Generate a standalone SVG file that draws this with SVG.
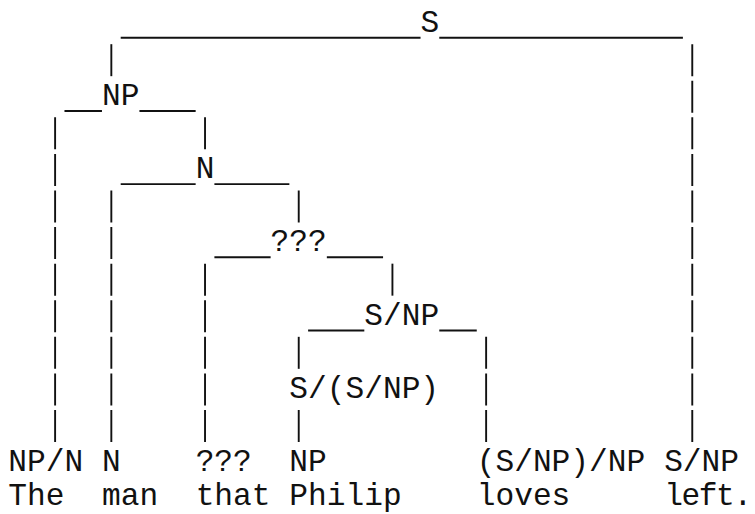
<svg xmlns="http://www.w3.org/2000/svg" width="755" height="514" viewBox="0 0 755 514">
  <style>
    text { font-family: "Liberation Mono", "DejaVu Sans Mono", monospace; font-size: 31.2px; fill: #111; }
    .bar { stroke: #111; stroke-width: 1.9; stroke-dasharray: 32 4.58; fill: none; }
    .rule { stroke: #111; stroke-width: 1.9; fill: none; }
  </style>
  <rect width="755" height="514" fill="#ffffff"/>

  <!-- branch rules (underscores) and vertical stems, one text row = 36.58px -->
  <g id="connectors">
    <!-- S -->
    <line class="rule" x1="120.70" y1="37.8" x2="420.54" y2="37.8"/>
    <line class="rule" x1="439.28" y1="37.8" x2="682.90" y2="37.8"/>
    <line class="bar" x1="111.33" y1="44.18" x2="111.33" y2="76.18"/>
    <line class="bar" x1="692.27" y1="44.18" x2="692.27" y2="441.98"/>
    <!-- NP -->
    <line class="rule" x1="64.48" y1="110.96" x2="101.96" y2="110.96"/>
    <line class="rule" x1="139.44" y1="110.96" x2="195.66" y2="110.96"/>
    <line class="bar" x1="55.11" y1="117.34" x2="55.11" y2="441.98"/>
    <line class="bar" x1="205.03" y1="117.34" x2="205.03" y2="149.34"/>
    <!-- N -->
    <line class="rule" x1="120.70" y1="184.12" x2="195.66" y2="184.12"/>
    <line class="rule" x1="214.40" y1="184.12" x2="289.36" y2="184.12"/>
    <line class="bar" x1="111.33" y1="190.5" x2="111.33" y2="441.98"/>
    <line class="bar" x1="298.73" y1="190.5" x2="298.73" y2="222.5"/>
    <!-- ??? -->
    <line class="rule" x1="214.40" y1="257.28" x2="270.62" y2="257.28"/>
    <line class="rule" x1="326.84" y1="257.28" x2="383.06" y2="257.28"/>
    <line class="bar" x1="205.03" y1="263.66" x2="205.03" y2="441.98"/>
    <line class="bar" x1="392.43" y1="263.66" x2="392.43" y2="295.66"/>
    <!-- S/NP -->
    <line class="rule" x1="308.10" y1="330.44" x2="364.32" y2="330.44"/>
    <line class="rule" x1="439.28" y1="330.44" x2="476.76" y2="330.44"/>
    <line class="bar" x1="298.73" y1="336.82" x2="298.73" y2="368.82"/>
    <line class="bar" x1="486.13" y1="336.82" x2="486.13" y2="441.98"/>
    <!-- S/(S/NP) -->
    <line class="bar" x1="298.73" y1="409.98" x2="298.73" y2="441.98"/>
  </g>

  <!-- inner nodes -->
  <g id="node-s"><text x="420.54" y="32">S</text></g>
  <g id="node-np"><text x="101.96" y="105.16">NP</text></g>
  <g id="node-n"><text x="195.66" y="178.32">N</text></g>
  <g id="node-rel"><text x="270.62" y="251.48">???</text></g>
  <g id="node-s-np"><text x="364.32" y="324.64">S/NP</text></g>
  <g id="node-raise"><text x="289.36" y="397.80">S/(S/NP)</text></g>

  <!-- leaves: category over word -->
  <g id="leaf-the"><text x="8.26" y="470.96">NP/N</text><text x="8.26" y="505">The</text></g>
  <g id="leaf-man"><text x="101.96" y="470.96">N</text><text x="101.96" y="505">man</text></g>
  <g id="leaf-that"><text x="195.66" y="470.96">???</text><text x="195.66" y="505">that</text></g>
  <g id="leaf-philip"><text x="289.36" y="470.96">NP</text><text x="289.36" y="505">Philip</text></g>
  <g id="leaf-loves"><text x="476.76" y="470.96">(S/NP)/NP</text><text x="476.76" y="505">loves</text></g>
  <g id="leaf-left"><text x="664.16" y="470.96">S/NP</text><text x="664.16" y="505" textLength="88" lengthAdjust="spacing">left.</text></g>
</svg>
